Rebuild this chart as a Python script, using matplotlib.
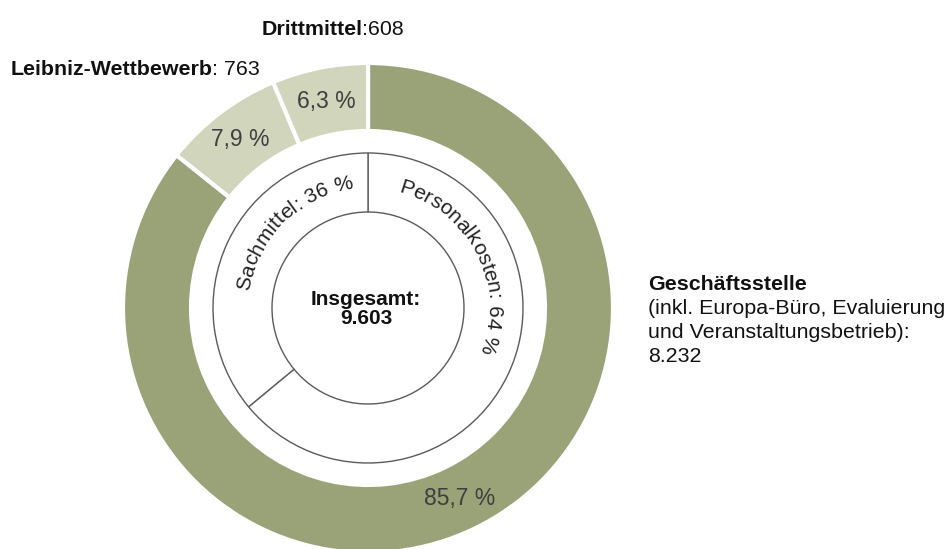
import matplotlib
matplotlib.use("Agg")
import matplotlib.pyplot as plt
import numpy as np

plt.rcParams['font.family'] = ['Liberation Sans', 'DejaVu Sans']

# Werte in Tsd. Euro
outer_labels = ["Geschäftsstelle", "Leibniz-Wettbewerb", "Drittmittel"]
outer_values = [8232, 763, 608]
inner_labels = ["Personalkosten", "Sachmittel"]
inner_values = [64, 36]
total = 9603

dark = "#9aa378"
light = "#d0d5bb"

W, H = 946, 549
fig = plt.figure(figsize=(W / 100, H / 100), dpi=100)
ax = fig.add_axes([0, 0, 1, 1])

cx, cy = 368, H - 308
r_out = 245


def fmt_pct(p):
    return ("%.1f %%" % p).replace(".", ",")


wedges, _, pcts = ax.pie(outer_values, radius=r_out, center=(cx, cy), startangle=90,
                         counterclock=False, colors=[dark, light, light],
                         autopct=fmt_pct, pctdistance=211 / r_out,
                         wedgeprops=dict(width=68, edgecolor="white", linewidth=3),
                         textprops=dict(fontsize=16.5, color="#3f3f3f"))

ax.pie(inner_values, radius=155, center=(cx, cy), startangle=90, counterclock=False,
       colors=["white", "white"],
       wedgeprops=dict(width=59, edgecolor="#5a5a5a", linewidth=1))

ax.set_xlim(0, W)
ax.set_ylim(0, H)
ax.axis("off")

renderer = fig.canvas.get_renderer()


def char_adv(c, size):
    t1 = ax.text(0, 0, "|" + c + "|", fontsize=size)
    t2 = ax.text(0, 0, "||", fontsize=size)
    w = t1.get_window_extent(renderer).width - t2.get_window_extent(renderer).width
    t1.remove()
    t2.remove()
    return w


def arc_text(s, mid_angle, radius, size=15):
    advs = [char_adv(c, size) for c in s]
    total_len = sum(advs)
    theta0 = np.deg2rad(mid_angle) + total_len / 2 / radius
    pos = 0.0
    for c, a in zip(s, advs):
        th = theta0 - (pos + a / 2) / radius
        pos += a
        if c == " ":
            continue
        ax.text(cx + radius * np.cos(th), cy + radius * np.sin(th), c, fontsize=size,
                rotation=np.rad2deg(th) - 90, rotation_mode="anchor",
                ha="center", va="baseline", color="#222222")


arc_text("%s: %d %%" % (inner_labels[1], inner_values[1]), 134.5, 120)
arc_text("%s: %d %%" % (inner_labels[0], inner_values[0]), 27, 120)

ax.text(cx - 2, H - 309, "Insgesamt:\n" + f"{total:,}".replace(",", "."),
        fontsize=15, fontweight="bold", ha="center", va="center",
        linespacing=1.05, color="#111111")

lab_size = 15.4


def mixed(x, y, bold, rest, size=lab_size):
    t = ax.text(x, y, bold, fontsize=size, fontweight="bold", va="baseline", color="#111111")
    bb = t.get_window_extent(renderer)
    ax.text(bb.x1 - 1, y, rest, fontsize=size, va="baseline", color="#111111")


mixed(262, H - 35, outer_labels[2], ":%d" % outer_values[2])
mixed(11, H - 75, outer_labels[1], ": %d" % outer_values[1])

lines = ["(inkl. Europa-Büro, Evaluierung", "und Veranstaltungsbetrieb):",
         f"{outer_values[0]:,}".replace(",", ".")]
ax.text(648, H - 290, outer_labels[0], fontsize=lab_size, fontweight="bold",
        va="baseline", color="#111111")
for i, ln in enumerate(lines):
    ax.text(648, H - 290 - 24 * (i + 1), ln, fontsize=lab_size, va="baseline", color="#111111")

fig.savefig("out.png", dpi=100)
